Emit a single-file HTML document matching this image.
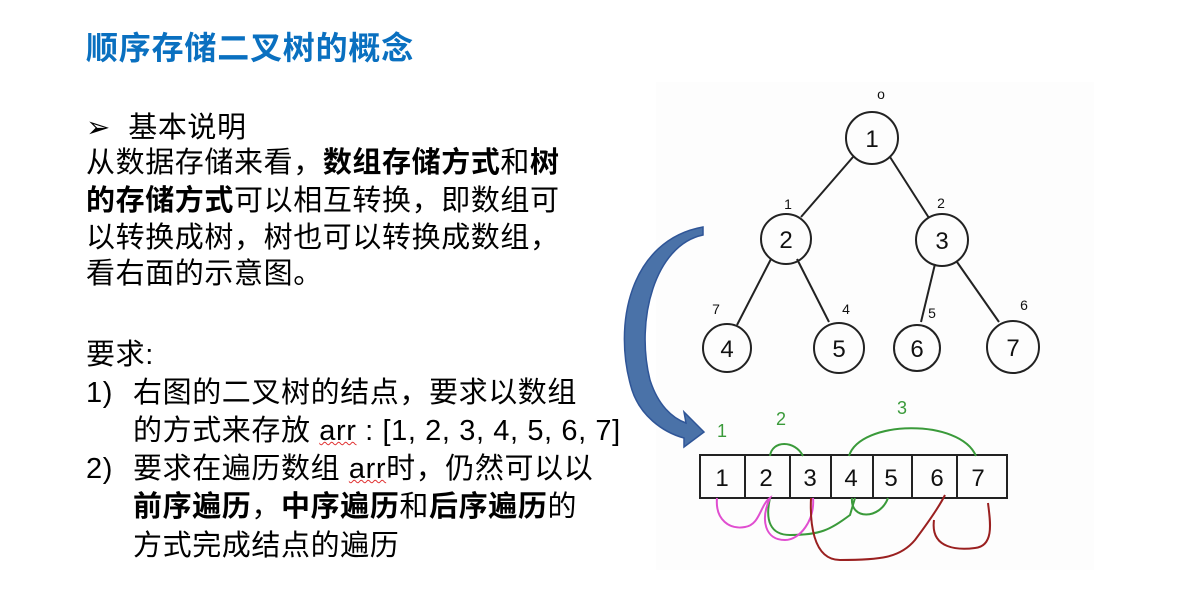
<!DOCTYPE html>
<html><head><meta charset="utf-8"><style>
body{margin:0;width:1196px;height:595px;background:#fff;position:relative;overflow:hidden;font-family:"Liberation Sans","Noto Sans CJK SC",sans-serif;}
.t{position:absolute;white-space:nowrap;font-size:29px;line-height:30px;color:#000;letter-spacing:0.6px}
b{font-weight:bold}
.title{position:absolute;left:86px;top:30px;font-size:32px;line-height:36px;color:#0a70c0;font-weight:bold;white-space:nowrap;letter-spacing:0.8px}
u{text-decoration:underline wavy #e03030;text-decoration-thickness:1px}
</style></head><body>
<div class="title">顺序存储二叉树的概念</div>
<div class="t" style="left:86px;top:113px">➢&nbsp;&nbsp;基本说明</div>
<div class="t" style="left:86px;top:148px">从数据存储来看，<b>数组存储方式</b>和<b>树</b></div>
<div class="t" style="left:86px;top:186px"><b>的存储方式</b>可以相互转换，即数组可</div>
<div class="t" style="left:86px;top:223px">以转换成树，树也可以转换成数组，</div>
<div class="t" style="left:86px;top:259px">看右面的示意图。</div>
<div class="t" style="left:86px;top:340px">要求:</div>
<div class="t" style="left:86px;top:378px">1)</div>
<div class="t" style="left:133px;top:378px">右图的二叉树的结点，要求以数组</div>
<div class="t" style="left:133px;top:416px">的方式来存放 <u>arr</u> : [1, 2, 3, 4, 5, 6, 7]</div>
<div class="t" style="left:86px;top:454px">2)</div>
<div class="t" style="left:133px;top:454px">要求在遍历数组 <u>arr</u>时，仍然可以以</div>
<div class="t" style="left:133px;top:492px"><b>前序遍历</b>，<b>中序遍历</b>和<b>后序遍历</b>的</div>
<div class="t" style="left:133px;top:531px">方式完成结点的遍历</div>
<svg width="1196" height="595" style="position:absolute;left:0;top:0">
<rect x="656" y="82" width="438" height="488" fill="#fdfdfd"/>
<g stroke="#222" stroke-width="2" fill="none">
<line x1="853" y1="157" x2="801" y2="217"/><line x1="890" y1="157" x2="929" y2="218"/>
<line x1="771" y1="259" x2="737" y2="325"/><line x1="797" y1="259" x2="829" y2="322"/>
<line x1="935" y1="264" x2="921" y2="322"/><line x1="957" y1="262" x2="999" y2="322"/>
<circle cx="872" cy="138" r="26"/><circle cx="786" cy="239" r="25"/><circle cx="942" cy="240" r="26"/>
<circle cx="727" cy="348" r="24"/><circle cx="839" cy="348" r="25"/><circle cx="917" cy="348" r="23"/><circle cx="1013" cy="347" r="26"/>
<rect x="700" y="455" width="307" height="43"/>
<line x1="745" y1="455" x2="745" y2="498"/><line x1="790" y1="455" x2="790" y2="498"/><line x1="831" y1="455" x2="831" y2="498"/><line x1="873" y1="455" x2="873" y2="498"/><line x1="912" y1="455" x2="912" y2="498"/><line x1="957" y1="455" x2="957" y2="498"/>
</g>
<g font-family="Liberation Sans" font-size="24" fill="#111" text-anchor="middle">
<text x="872" y="147">1</text><text x="786" y="248">2</text><text x="942" y="249">3</text><text x="727" y="357">4</text><text x="839" y="357">5</text><text x="917" y="357">6</text><text x="1013" y="356">7</text>
<text x="722" y="486">1</text><text x="766" y="486">2</text><text x="810" y="486">3</text><text x="851" y="486">4</text><text x="891" y="486">5</text><text x="937" y="486">6</text><text x="978" y="486">7</text>
</g>
<g font-family="Liberation Sans" font-size="14" fill="#111" text-anchor="middle">
<text x="881" y="99">o</text><text x="788" y="209">1</text><text x="941" y="208">2</text><text x="716" y="314">7</text><text x="846" y="314">4</text><text x="932" y="318">5</text><text x="1024" y="310">6</text>
</g>
<g font-family="Liberation Sans" font-size="18" fill="#3a9a3a" text-anchor="middle">
<text x="722" y="437">1</text><text x="781" y="425">2</text><text x="902" y="414">3</text>
</g>
<g fill="none" stroke-width="2">
<path d="M770 456 C772 440 795 440 803 456" stroke="#3a9a3a"/>
<path d="M849 456 C860 420 960 418 976 456" stroke="#3a9a3a"/>
<path d="M770 498 C765 520 770 535 790 535 C820 535 830 530 850 515 L855 498" stroke="#3a9a3a"/>
<path d="M852 498 C850 520 880 520 888 498" stroke="#3a9a3a"/>
<path d="M717 498 C715 520 730 530 745 527 C760 525 760 505 770 498 C760 520 765 540 785 540 C800 540 815 520 813 498" stroke="#e04ed0"/>
<path d="M811 498 C810 520 812 560 840 560 C880 560 900 558 915 540 C930 520 940 505 945 495" stroke="#9a2020"/>
<path d="M934 520 C930 550 960 550 975 548 C995 546 990 520 988 503" stroke="#9a2020"/>
</g>
<path d="M703 235 C655 245 635 320 650 380 C658 405 672 418 686 423 L684 412 L704 432 L684 447 L684 438 C662 432 640 415 632 390 C612 325 630 240 703 227 Z" fill="#4a72a8" stroke="#2f5597" stroke-width="1.5"/>
</svg>
</body></html>
